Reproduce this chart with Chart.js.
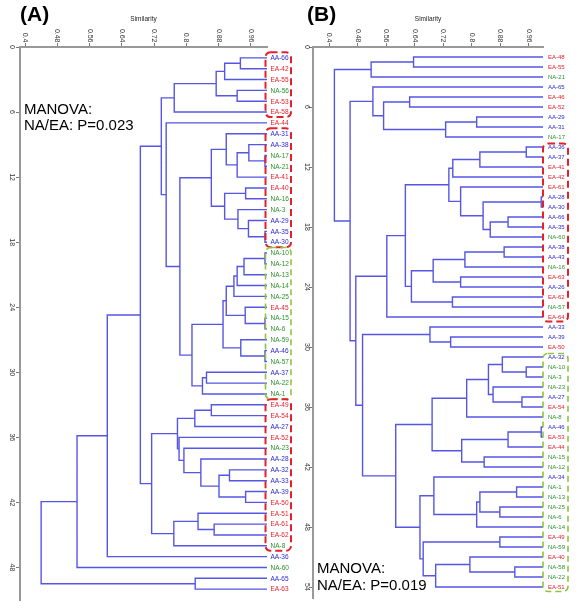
<!DOCTYPE html>
<html><head><meta charset="utf-8">
<script src="https://cdn.jsdelivr.net/npm/chart.js@4.4.1/dist/chart.umd.min.js"></script>
<style>
html,body{margin:0;padding:0;background:#fff;}
#wrap{position:relative;width:579px;height:609px;overflow:hidden;}
canvas{position:absolute;left:0;top:0;}
</style></head><body>
<div id="wrap"><canvas id="cA" width="579" height="609"></canvas><canvas id="cB" width="579" height="609"></canvas></div>
<script>
// ---------- data ----------
const xTicks = [0.4, 0.48, 0.56, 0.64, 0.72, 0.8, 0.88, 0.96];
const xTickLabels = ['0.4', '0.48', '0.56', '0.64', '0.72', '0.8', '0.88', '0.96'];
const yTicksA = [0, 6, 12, 18, 24, 30, 36, 42, 48];
const yTicksB = [0, 6, 12, 18, 24, 30, 36, 42, 48, 54];
const leafSim = 1.0;

const leavesA = ['AA-66','EA-42','EA-55','NA-56','EA-53','EA-58','EA-44','AA-31','AA-38','NA-17',
 'NA-21','EA-41','EA-40','NA-16','NA-3','AA-29','AA-35','AA-30','NA-10','NA-12',
 'NA-13','NA-14','NA-25','EA-45','NA-15','NA-6','NA-59','AA-46','NA-57','AA-37',
 'NA-22','NA-1','EA-49','EA-54','AA-27','EA-52','NA-23','AA-28','AA-32','AA-33',
 'AA-39','EA-50','EA-51','EA-61','EA-62','NA-8','AA-36','NA-60','AA-65','EA-63'];

// merges: [childA, childB, similarity]; positive = leaf number, negative = earlier merge number
const mergesA = [
 [1,2,0.934],[-1,3,0.895],[4,5,0.926],[-2,-3,0.874],[-4,6,0.770],
 [10,11,0.995],[9,-6,0.955],[-7,12,0.926],[8,-8,0.899],[13,14,0.947],
 [17,18,0.995],[16,-11,0.954],[15,-12,0.928],[-10,-13,0.895],[-9,-14,0.862],
 [19,20,0.995],[-16,21,0.943],[-17,22,0.926],[-18,23,0.918],[25,26,0.995],
 [24,-20,0.946],[-19,-21,0.899],[28,29,0.995],[27,-23,0.935],[-22,-24,0.891],
 [30,31,0.850],[-26,32,0.840],[-25,-27,0.814],[-15,-28,0.784],[7,-29,0.750],
 [-5,-30,0.738],[33,34,0.862],[-32,35,0.821],[41,42,0.947],[39,40,0.907],
 [-35,-34,0.881],[38,-36,0.836],[37,-37,0.794],[36,-38,0.782],[-33,-39,0.778],
 [44,45,0.869],[43,-41,0.829],[-42,46,0.769],[-40,-43,0.714],[-31,-44,0.686],
 [-45,47,0.604],[-46,48,0.529],[49,50,0.822],[-47,-48,0.440]
];
const boxesA = [[1,6,'red'],[8,18,'red'],[19,32,'green'],[33,46,'red']];

const leavesB = ['EA-48','EA-55','NA-21','AA-65','EA-46','EA-52','AA-29','AA-31','NA-17','AA-36',
 'AA-37','EA-41','EA-42','EA-61','AA-28','AA-30','AA-66','AA-35','NA-60','AA-38',
 'AA-43','NA-16','EA-63','AA-26','EA-62','NA-57','EA-64','AA-33','AA-39','EA-50',
 'AA-32','NA-10','NA-3','NA-23','AA-27','EA-54','NA-8','AA-46','EA-53','EA-44',
 'NA-15','NA-12','AA-34','NA-1','NA-13','NA-25','NA-6','NA-14','EA-49','NA-59',
 'EA-40','NA-58','NA-22','EA-51'];
const mergesB = [
 [1,2,0.637],[-1,3,0.518],[5,6,0.626],[7,8,0.814],[-4,9,0.727],
 [-3,-5,0.553],[4,-6,0.523],[10,11,0.953],[-8,12,0.823],[-9,13,0.747],
 [15,16,0.995],[17,18,0.902],[-12,19,0.852],[-11,-13,0.832],[14,-14,0.769],
 [-10,-15,0.736],[20,21,0.891],[-17,22,0.781],[23,24,0.769],[-18,-19,0.692],
 [25,26,0.746],[-20,-21,0.631],[-16,-22,0.614],[-23,27,0.562],[29,30,0.741],
 [28,-25,0.683],[32,33,0.953],[31,-27,0.886],[35,36,0.941],[34,-29,0.860],
 [-28,-30,0.847],[-31,37,0.786],[38,39,0.995],[-33,40,0.902],[41,42,0.835],
 [-34,-35,0.772],[-32,-36,0.689],[44,45,0.926],[46,47,0.879],[-38,-39,0.823],
 [-40,48,0.814],[43,-41,0.694],[49,50,0.879],[52,53,0.921],[51,-44,0.795],
 [-45,54,0.699],[-43,-46,0.664],[-42,-47,0.655],[-37,-48,0.587],[-26,-49,0.494],
 [-24,-50,0.475],[-7,-51,0.459],[-2,-52,0.415]
];
const boxesB = [[10,27,'red'],[31,54,'green']];

// ---------- build dendrogram polylines from the tree ----------
function dendroPoints(merges){
  const pos = [];
  const node = r => r > 0 ? {x: leafSim, y: r} : pos[-r - 1];
  const pts = [];
  merges.forEach(([a, b, h]) => {
    const A = node(a), B = node(b);
    pts.push({x: A.x, y: A.y}, {x: h, y: A.y}, {x: h, y: B.y}, {x: B.x, y: B.y}, {x: h, y: null});
    pos.push({x: h, y: (A.y + B.y) / 2});
  });
  return pts;
}

const LINE = '#5656e4';
const COL = {AA: '#2a2ad2', EA: '#e8202a', NA: '#2b932b'};
const BOXCOL = {red: '#e3202b', green: '#8cc63f'};
const FONT = '"Liberation Sans", Arial, Helvetica, sans-serif';

function decor(cfg){
  return {
    id: 'decor' + cfg.letter,
    afterDraw(chart){
      const ctx = chart.ctx, xs = chart.scales.x, ys = chart.scales.y, ca = chart.chartArea;
      ctx.save();
      ctx.fillStyle = '#333';
      ctx.font = '7px ' + FONT;
      xTicks.forEach((v, i) => {
        const px = xs.getPixelForValue(v);
        ctx.save(); ctx.translate(px, ca.top - 4.5); ctx.rotate(Math.PI / 2);
        ctx.textAlign = 'right'; ctx.textBaseline = 'middle';
        ctx.fillText(xTickLabels[i], 0, 0); ctx.restore();
      });
      cfg.yTicks.forEach(v => {
        const py = ys.getPixelForValue(v);
        ctx.save(); ctx.translate(ca.left - cfg.yLabOff, py); ctx.rotate(Math.PI / 2);
        ctx.textAlign = 'center'; ctx.textBaseline = 'middle';
        ctx.fillText(String(v), 0, 0); ctx.restore();
      });
      // leaf labels
      ctx.font = cfg.leafFont + 'px ' + FONT;
      ctx.textAlign = 'left'; ctx.textBaseline = 'middle';
      cfg.leaves.forEach((lab, i) => {
        ctx.fillStyle = COL[lab.slice(0, 2)];
        ctx.fillText(lab, ca.right + cfg.leafGap, ys.getPixelForValue(i + 1) + 0.5);
      });
      // dashed boxes
      cfg.boxes.forEach(([a, b, c]) => {
        const y0 = ys.getPixelForValue(a) - cfg.boxTop, y1 = ys.getPixelForValue(b) + cfg.boxBot;
        const x0 = ca.right + cfg.boxL, x1 = ca.right + cfg.boxR;
        ctx.strokeStyle = BOXCOL[c];
        ctx.lineWidth = c === 'red' ? 2 : 1.6;
        ctx.setLineDash(c === 'red' ? [7, 4] : [6, 4]);
        ctx.beginPath();
        ctx.roundRect(x0, y0, x1 - x0, y1 - y0, 5);
        ctx.stroke();
      });
      ctx.setLineDash([]);
      // panel letter
      ctx.fillStyle = '#000';
      ctx.font = 'bold 21px ' + FONT;
      ctx.textBaseline = 'middle'; ctx.textAlign = 'left';
      ctx.fillText('(' + cfg.letter + ')', cfg.letterX, 15);
      // MANOVA note
      ctx.font = '15px ' + FONT;
      ctx.fillText('MANOVA:', cfg.noteX, cfg.noteY[0]);
      ctx.fillText(cfg.note, cfg.noteX, cfg.noteY[1]);
      ctx.restore();
    }
  };
}

function makeChart(id, cfg){
  return new Chart(document.getElementById(id), {
    type: 'line',
    data: {datasets: [{data: dendroPoints(cfg.merges), borderColor: LINE, borderWidth: 1.4,
      pointRadius: 0, fill: false, tension: 0, spanGaps: false, clip: false}]},
    options: {
      responsive: false, animation: false, events: [],
      layout: {padding: cfg.pad},
      plugins: {legend: {display: false}, tooltip: {enabled: false}},
      scales: {
        x: {type: 'linear', position: 'top', min: cfg.xMin, max: 1.0,
          afterBuildTicks: s => { s.ticks = xTicks.map(v => ({value: v})); },
          afterFit: s => { s.height = cfg.top; },
          ticks: {display: false},
          grid: {drawOnChartArea: false, drawTicks: true, tickLength: 4, color: '#777', lineWidth: 1},
          border: {display: true, color: '#999', width: 2},
          title: {display: true, text: 'Similarity', color: '#222', font: {size: 6.5, family: FONT}, padding: {top: 15, bottom: 0}}
        },
        y: {type: 'linear', position: 'left', reverse: true, min: 0, max: cfg.yMax,
          afterBuildTicks: s => { s.ticks = cfg.yTicks.map(v => ({value: v})); },
          afterFit: s => { s.width = cfg.yW; },
          ticks: {display: false},
          grid: {drawOnChartArea: false, drawTicks: true, tickLength: 4, color: '#777', lineWidth: 1},
          border: {display: true, color: '#999', width: 2}
        }
      }
    },
    plugins: [decor(cfg)]
  });
}

makeChart('cA', {letter: 'A', merges: mergesA, leaves: leavesA, boxes: boxesA, yTicks: yTicksA,
  xMin: 0.3876, yMax: 51, top: 47, yW: 20, pad: {left: 0, top: 0, right: 312, bottom: 9},
  yLabOff: 8.5, leafFont: 6.5, leafGap: 3.5, boxTop: 5.5, boxBot: 5, boxL: -1.5, boxR: 24,
  letterX: 20, noteX: 24, noteY: [110, 126], note: 'NA/EA: P=0.023'});
makeChart('cB', {letter: 'B', merges: mergesB, leaves: leavesB, boxes: boxesB, yTicks: yTicksB,
  xMin: 0.355, yMax: 55.1, top: 47, yW: 23, pad: {left: 290, top: 0, right: 36, bottom: 11},
  yLabOff: 6.5, leafFont: 6, leafGap: 5, boxTop: 3.5, boxBot: 4.5, boxL: 0, boxR: 25,
  letterX: 307, noteX: 317, noteY: [568.5, 586], note: 'NA/EA: P=0.019'});
</script>
</body></html>
